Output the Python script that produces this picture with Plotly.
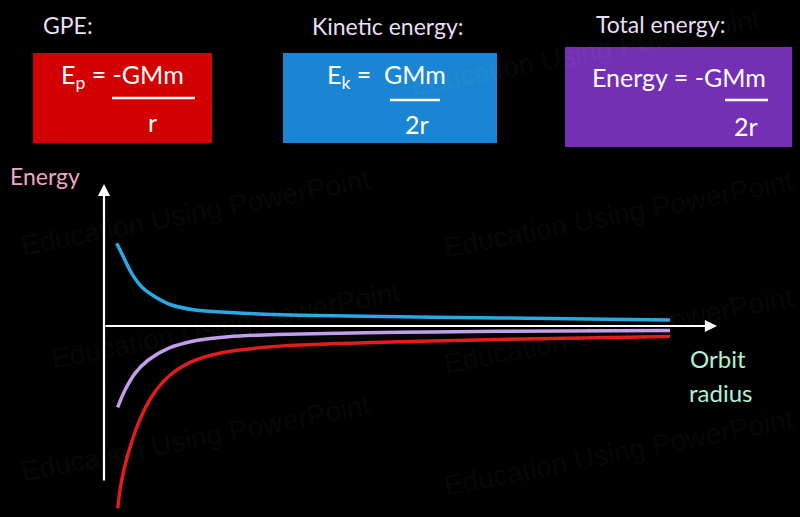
import plotly.graph_objects as go

# ---- data (orbit radius in arbitrary units, energy in arbitrary units)
r_kinetic = [0.207, 0.315, 0.452, 0.613, 0.832, 1.104, 1.485, 2.055, 2.626, 3.197, 4.829, 6.460, 9.233]
e_kinetic = [4.135, 3.465, 2.635, 1.965, 1.465, 1.05, 0.80, 0.675, 0.59, 0.54, 0.465, 0.40, 0.30]

r_total = [0.223, 0.343, 0.506, 0.723, 1.049, 1.485, 2.028, 2.626, 3.197, 4.829, 6.460, 9.233]
e_total = [-4.065, -3.20, -2.365, -1.70, -1.115, -0.735, -0.535, -0.45, -0.40, -0.315, -0.265, -0.225]

r_gpe = [0.223, 0.289, 0.396, 0.560, 0.778, 1.049, 1.431, 1.920, 2.626, 3.197, 4.829, 6.460, 9.233]
e_gpe = [-9.115, -7.70, -6.365, -4.865, -3.535, -2.535, -1.785, -1.335, -1.065, -0.95, -0.785, -0.675, -0.525]

x_axis_end = 10.0
y_axis_top = 7.1
y_axis_bottom = -7.8

W, H = 800, 517
FONT = "Comic Sans MS, Lato, sans-serif"

fig = go.Figure()
for r, e, c in [(r_kinetic, e_kinetic, "#2aa8e2"), (r_total, e_total, "#c39cec"), (r_gpe, e_gpe, "#e21b1b")]:
    fig.add_trace(go.Scatter(x=r, y=e, mode="lines", line=dict(color=c, width=3.5, shape="spline"),
                             hoverinfo="skip", showlegend=False))

def px(x):
    return x / W

def py(y):
    return 1 - y / H

ann = []
# watermarks
wm = "Education Using PowerPoint"
for (cx, cy) in [(195, 212), (618, 214), (225, 325), (195, 438), (618, 330), (618, 452), (585, 52)]:
    ann.append(dict(x=px(cx), y=py(cy), xref="paper", yref="paper", text=wm, showarrow=False,
                    textangle=-11, xanchor="center", yanchor="middle",
                    font=dict(family="Liberation Sans, Arial", size=28,
                              color="rgba(255,255,255,0.05)")))

# axes arrows
ann.append(dict(x=x_axis_end, y=0, ax=0, ay=0, xref="x", yref="y", axref="x", ayref="y",
                showarrow=True, arrowhead=2, arrowsize=1.1, arrowwidth=2.2, arrowcolor="white", text=""))
ann.append(dict(x=0, y=y_axis_top, ax=0, ay=y_axis_bottom, xref="x", yref="y", axref="x", ayref="y",
                showarrow=True, arrowhead=2, arrowsize=1.1, arrowwidth=2.2, arrowcolor="white", text=""))

def txt(s, x, y, size, color):
    ann.append(dict(x=px(x), y=py(y), xref="paper", yref="paper", text=s, showarrow=False,
                    font=dict(family=FONT, size=size, color=color), xanchor="center", yanchor="middle"))

head = "#e8def6"
txt("GPE:", 68, 25, 23, head)
txt("Kinetic energy:", 388, 26, 23, head)
txt("Total energy:", 660, 24, 23, head)

txt("E<sub>p</sub> = -GMm", 122, 76, 25, "white")
txt("r", 152, 122, 25, "white")
txt("E<sub>k</sub> =  GMm", 386, 76, 25, "white")
txt("2r", 417, 124, 25, "white")
txt("Energy = -GMm", 679, 77, 25, "white")
txt("2r", 746, 126, 25, "white")

txt("Energy", 45, 176, 23, "#f0a6c8")
txt("Orbit", 718, 358, 24, "#b2f0d2")
txt("radius", 720, 392, 24, "#b2f0d2")

shapes = []
def box(x0, y0, x1, y1, col):
    shapes.append(dict(type="rect", xref="paper", yref="paper", x0=px(x0), x1=px(x1), y0=py(y1), y1=py(y0),
                       fillcolor=col, line=dict(width=0), layer="below"))

def bar(x0, x1, y):
    shapes.append(dict(type="line", xref="paper", yref="paper", x0=px(x0), x1=px(x1), y0=py(y), y1=py(y),
                       line=dict(color="white", width=2.5)))

box(33, 53, 212, 143, "#d20000")
box(283, 53, 497, 143, "#1a86d3")
box(565, 47, 792, 147, "#7430b4")
bar(112, 195, 98)
bar(390, 440, 100)
bar(725, 768, 100)

fig.update_layout(
    width=W, height=H, margin=dict(l=0, r=0, t=0, b=0),
    paper_bgcolor="black", plot_bgcolor="black",
    xaxis=dict(range=[-104 / 61.3, (W - 104) / 61.3], visible=False),
    yaxis=dict(range=[(326 - H) / 20, 326 / 20], visible=False),
    annotations=ann, shapes=shapes,
)
fig.write_html("out.html", config={"displayModeBar": False},
               post_script="document.body.style.margin='0';document.body.style.background='black';")
